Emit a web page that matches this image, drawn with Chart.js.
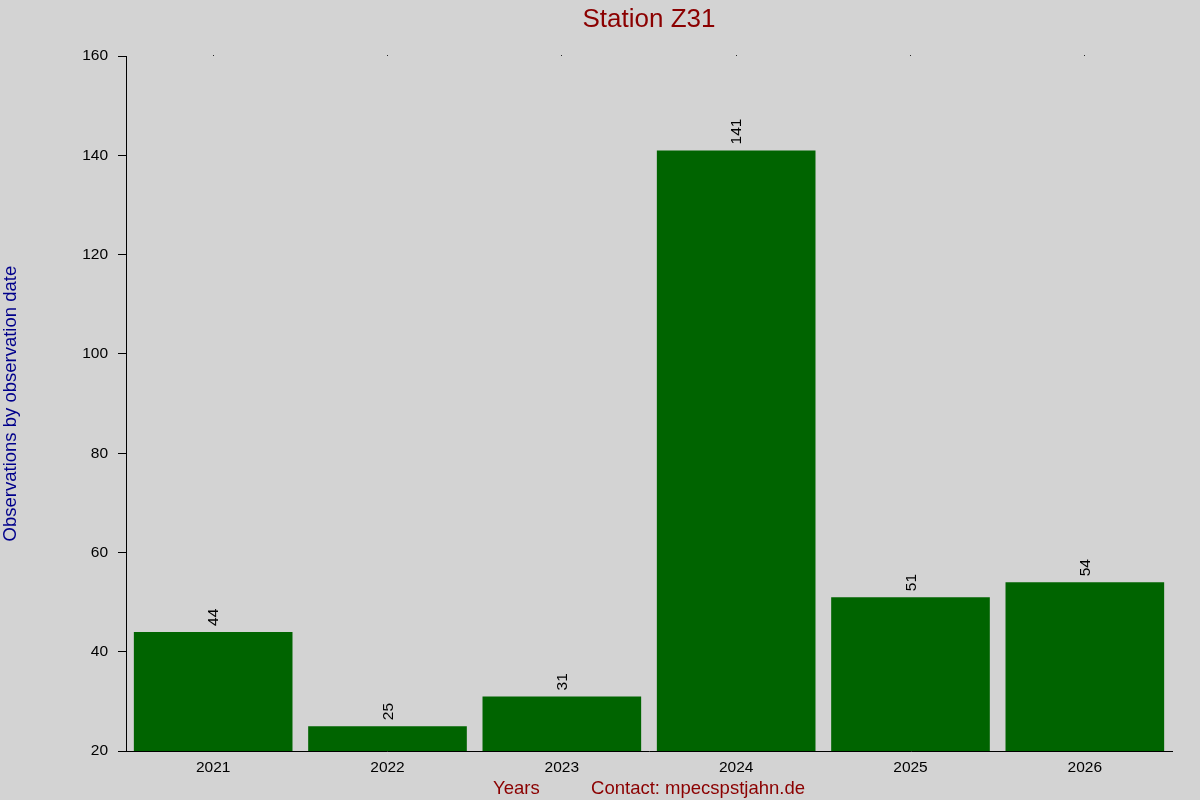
<!DOCTYPE html>
<html>
<head>
<meta charset="utf-8">
<script src="https://cdn.jsdelivr.net/npm/chart.js@4/dist/chart.umd.min.js"></script>
<style>
  html, body { margin: 0; padding: 0; background: #d3d3d3; }
  #wrap { width: 1200px; height: 800px; }
</style>
</head>
<body>
<div id="wrap"><canvas id="stationChart" width="1200" height="800"></canvas></div>
<script>
// chart data
var years = ['2021', '2022', '2023', '2024', '2025', '2026'];
var observations = [44, 25, 31, 141, 51, 54];
var yTicks = [20, 40, 60, 80, 100, 120, 140, 160];

var fontName = '"Liberation Sans", Arial, sans-serif';

// draws the value above each bar, rotated
var barValues = {
    id: 'barValues',
    afterDatasetsDraw: function(chart) {
        var ctx = chart.ctx;
        var meta = chart.getDatasetMeta(0);
        ctx.save();
        ctx.fillStyle = '#000000';
        ctx.font = '15.5px ' + fontName;
        ctx.textAlign = 'left';
        ctx.textBaseline = 'middle';
        meta.data.forEach(function(bar, i) {
            ctx.save();
            ctx.translate(bar.x + 1, bar.y - 6);
            ctx.rotate(-Math.PI / 2);
            ctx.fillText(String(observations[i]), 0, 0);
            ctx.restore();
        });
        ctx.restore();
    }
};

var bg = {
    id: 'bg',
    beforeDraw: function(chart) {
        var ctx = chart.ctx;
        ctx.save();
        ctx.fillStyle = '#d3d3d3';
        ctx.fillRect(0, 0, chart.width, chart.height);
        ctx.restore();
    }
};

var ctx = document.getElementById('stationChart').getContext('2d');
var chart = new Chart(ctx, {
    type: 'bar',
    data: {
        labels: years,
        datasets: [{
            data: observations,
            backgroundColor: '#006400',
            borderWidth: 0,
            barPercentage: 0.91,
            categoryPercentage: 1.0
        }]
    },
    options: {
        responsive: false,
        animation: false,
        layout: { padding: { left: 0, right: 28, top: 0, bottom: 0 } },
        plugins: {
            legend: { display: false },
            tooltip: { enabled: false },
            title: {
                display: true,
                text: 'Station Z31',
                color: '#8b0000',
                fullSize: false,
                font: { family: fontName, size: 26, weight: 'normal' },
                padding: { top: 4, bottom: 21 }
            }
        },
        scales: {
            x: {
                grid: { display: false },
                border: { display: true, color: '#000000', width: 1 },
                ticks: {
                    color: '#000000',
                    font: { family: fontName, size: 15.5 },
                    padding: -1,
                    maxRotation: 0
                },
                title: {
                    display: true,
                    text: 'Years          Contact: mpecspstjahn.de',
                    color: '#8b0000',
                    font: { family: fontName, size: 18.5 },
                    padding: { top: 4, bottom: 0 }
                },
                afterFit: function(scale) { scale.height = 49; }
            },
            xTop: {
                type: 'category',
                position: 'top',
                labels: years,
                grid: {
                    offset: false,
                    drawOnChartArea: false,
                    drawTicks: true,
                    tickLength: 1,
                    color: '#000000'
                },
                border: { display: false },
                ticks: { display: false },
                afterFit: function(scale) { scale.height = 0; }
            },
            y: {
                min: 20,
                max: 160,
                afterBuildTicks: function(scale) {
                    scale.ticks = yTicks.map(function(v) { return { value: v }; });
                },
                grid: {
                    drawOnChartArea: false,
                    drawTicks: true,
                    tickLength: 8,
                    color: '#000000'
                },
                border: { display: true, color: '#000000', width: 1 },
                ticks: {
                    color: '#000000',
                    font: { family: fontName, size: 15.5 },
                    padding: 10
                },
                title: {
                    display: true,
                    text: 'Observations by observation date',
                    color: '#00008b',
                    font: { family: fontName, size: 18.5 },
                    padding: 0
                },
                afterFit: function(scale) { scale.width = 126; }
            }
        }
    },
    plugins: [bg, barValues]
});
</script>
</body>
</html>
